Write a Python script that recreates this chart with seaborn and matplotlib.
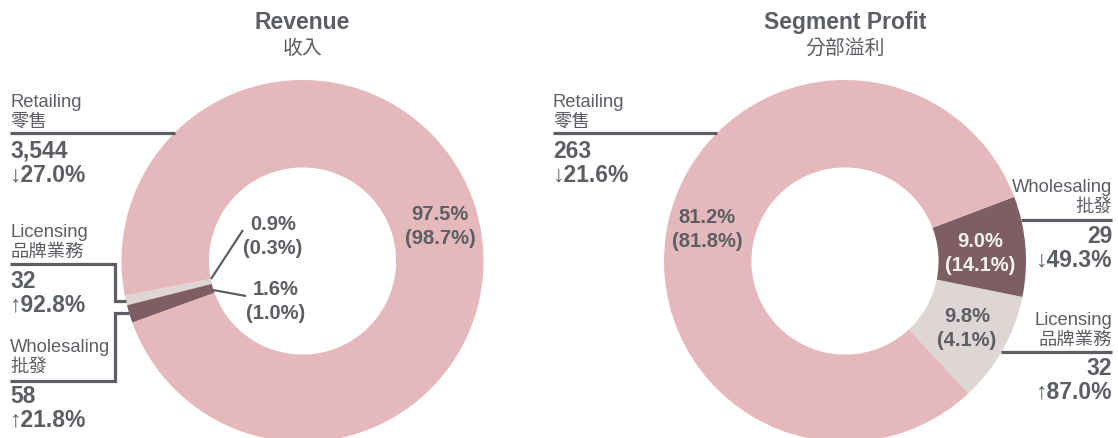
import numpy as np
import seaborn as sns
import matplotlib.pyplot as plt

segments = ["Licensing", "Wholesaling", "Retailing"]
segments_zh = ["品牌業務", "批發", "零售"]
revenue = [32, 58, 3544]
revenue_change = ["↑92.8%", "↑21.8%", "↓27.0%"]
revenue_pct_label = ["0.9%\n(0.3%)", "1.6%\n(1.0%)", "97.5%\n(98.7%)"]
profit = [32, 29, 263]
profit_change = ["↑87.0%", "↓49.3%", "↓21.6%"]
profit_pct_label = ["9.8%\n(4.1%)", "9.0%\n(14.1%)", "81.2%\n(81.8%)"]

sns.set_theme(style="white")
plt.rcParams["font.family"] = ["Liberation Sans", "Noto Sans CJK TC", "DejaVu Sans"]

W, H = 1118, 439
GREY = "#5b5f65"
colors = ["#ddd6d4", "#7c5e64", "#e5b8bb"]
R = 181

fig = plt.figure(figsize=(W / 100, H / 100), dpi=100)


def donut(cx, cy, values, start):
    ax = fig.add_axes([(cx - R) / W, 1 - (cy + R) / H, 2 * R / W, 2 * R / H])
    ax.pie(values, colors=colors, startangle=start, counterclock=True, radius=1,
           wedgeprops=dict(width=0.483, edgecolor="none", linewidth=0))
    ax.set_xlim(-1, 1)
    ax.set_ylim(-1, 1)
    ax.axis("off")
    return ax


donut(302.5, 262, revenue, 191)
donut(845, 262, profit, -47)

ov = fig.add_axes([0, 0, 1, 1])
ov.set_xlim(0, W)
ov.set_ylim(H, 0)
ov.axis("off")
ov.patch.set_alpha(0)


def edge_x(cx, cy, y, side):
    return cx + side * np.sqrt(R ** 2 - (y - cy) ** 2)


def txt(x, y, s, size=13.2, bold=False, ha="left", color=GREY, **kw):
    ov.text(x, y, s, fontsize=size, fontweight="bold" if bold else "normal",
            ha=ha, va="baseline", color=color, **kw)


def line(xs, ys, lw=2.3):
    ov.plot(xs, ys, color=GREY, lw=lw, solid_capstyle="butt", solid_joinstyle="miter")


# titles
for x, t, zh in [(302.5, "Revenue", "收入"), (845, "Segment Profit", "分部溢利")]:
    txt(x, 29, t, size=16.5, bold=True, ha="center")
    txt(x, 54, zh, size=14.3, ha="center")

# left: Revenue labels
txt(10, 107, segments[2]); txt(10, 127, segments_zh[2], size=13.2)
line([10, edge_x(302.5, 262, 134, -1)], [134, 134])
txt(10, 158, f"{revenue[2]:,}", size=16.5, bold=True)
txt(10, 181, revenue_change[2], size=16.5, bold=True)

txt(10, 237, segments[0]); txt(10, 257, segments_zh[0])
line([10, 115, 115, edge_x(302.5, 262, 302, -1)], [265, 265, 302, 302])
txt(10, 288, f"{revenue[0]:,}", size=16.5, bold=True)
txt(10, 311, revenue_change[0], size=16.5, bold=True)

txt(10, 352, segments[1]); txt(10, 372, segments_zh[1])
line([edge_x(302.5, 262, 314, -1), 115, 115, 10], [314, 314, 382, 382])
txt(10, 403, f"{revenue[1]:,}", size=16.5, bold=True)
txt(10, 426, revenue_change[1], size=16.5, bold=True)

# inner labels, revenue
for (x, y), s in zip([(273, 230), (276, 295), (440, 220)], revenue_pct_label):
    a, b = s.split("\n")
    txt(x, y, a, size=14.5, bold=True, ha="center")
    txt(x, y + 24, b, size=14.5, bold=True, ha="center")
line([243, 211], [231, 280], lw=1.6)
line([213, 246], [291, 297], lw=1.6)

# right: Segment Profit labels
txt(553, 107, segments[2]); txt(553, 127, segments_zh[2])
line([553, edge_x(845, 262, 134, -1)], [134, 134])
txt(553, 158, f"{profit[2]:,}", size=16.5, bold=True)
txt(553, 181, profit_change[2], size=16.5, bold=True)

txt(1112, 192, segments[1], ha="right"); txt(1112, 212, segments_zh[1], ha="right")
line([edge_x(845, 262, 221, 1), 1112], [221, 221])
txt(1112, 243, f"{profit[1]:,}", size=16.5, bold=True, ha="right")
txt(1112, 266, profit_change[1], size=16.5, bold=True, ha="right")

txt(1112, 325, segments[0], ha="right"); txt(1112, 345, segments_zh[0], ha="right")
line([edge_x(845, 262, 353, 1), 1112], [353, 353])
txt(1112, 375, f"{profit[0]:,}", size=16.5, bold=True, ha="right")
txt(1112, 398, profit_change[0], size=16.5, bold=True, ha="right")

# inner labels, profit
for (x, y), s, c in zip([(967, 322), (980, 247), (707, 223)], profit_pct_label,
                        [GREY, "#f4f0f0", GREY]):
    a, b = s.split("\n")
    txt(x, y, a, size=14.5, bold=True, ha="center", color=c)
    txt(x, y + 24, b, size=14.5, bold=True, ha="center", color=c)

fig.savefig("out.png", dpi=100)
